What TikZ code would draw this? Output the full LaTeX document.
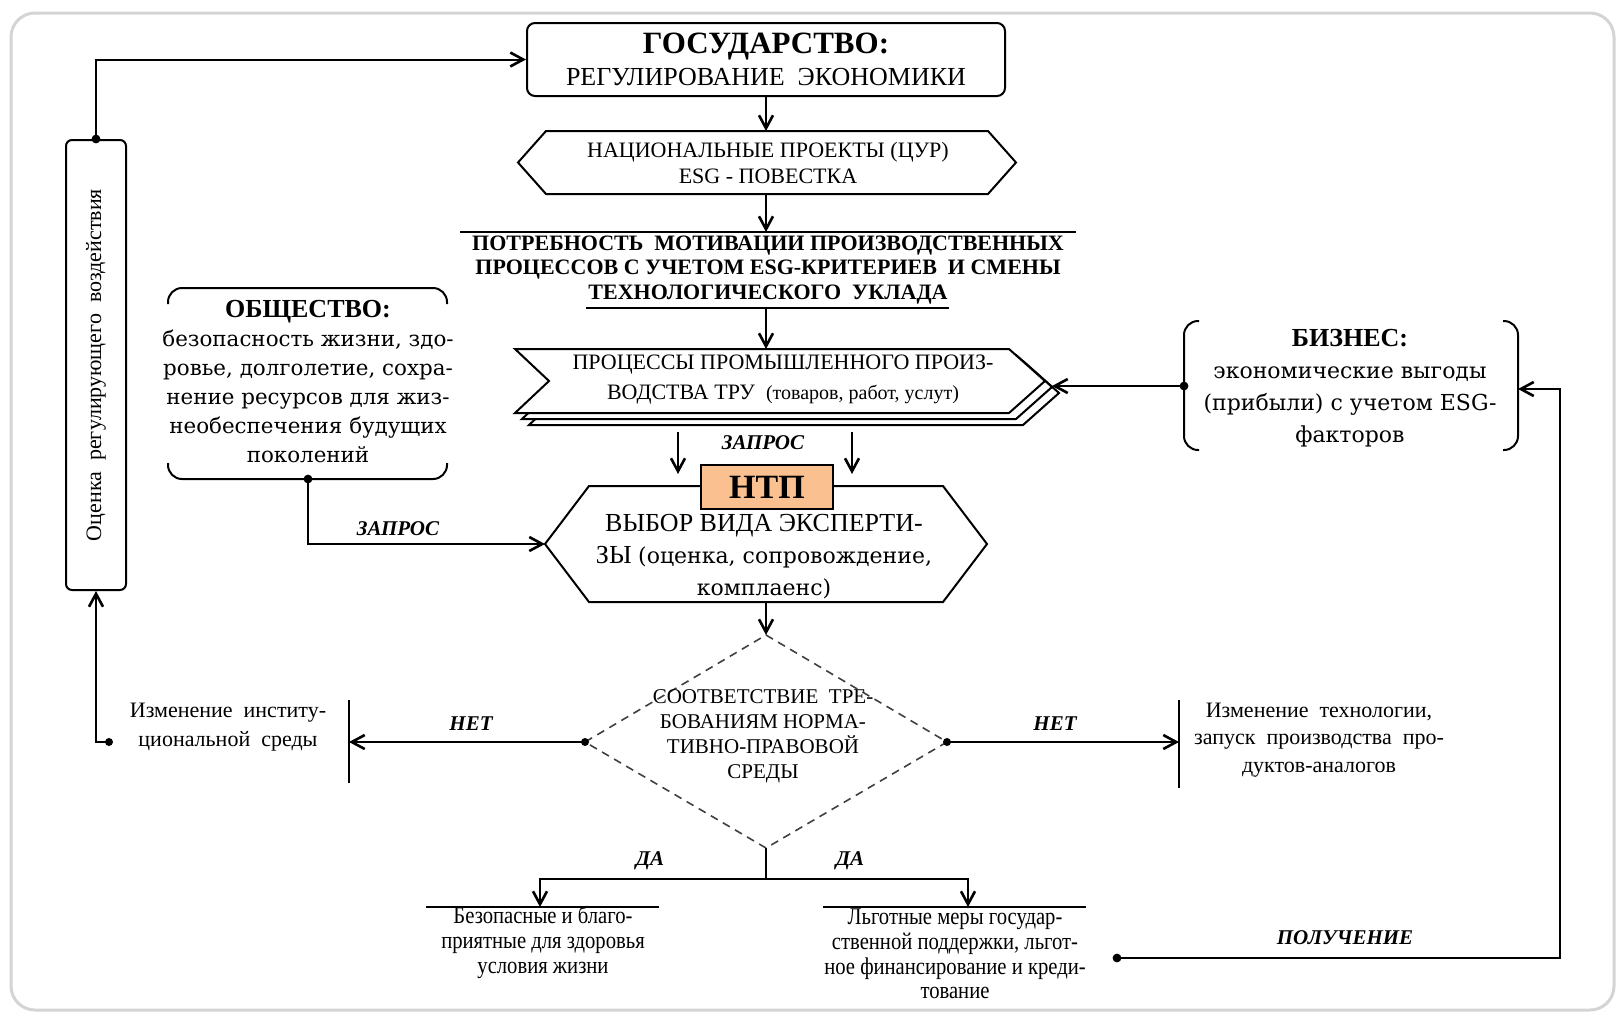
\documentclass[tikz,border=0pt]{standalone}
\usepackage{fontspec}
\usepackage{graphicx}
\setmainfont{Liberation Serif}
\newfontfamily\wideserif{DejaVu Serif}
\newfontfamily\narrowserif[FakeStretch=0.86]{Liberation Serif}
\usetikzlibrary{arrows.meta}
\definecolor{ntpfill}{RGB}{250,192,143}
\definecolor{framegray}{RGB}{212,212,212}

\begin{document}
\begin{tikzpicture}[x=0.5pt,y=-0.5pt,
  flowline/.style={line width=1pt},
  flowarrow/.style={line width=1pt,-{Straight Barb[length=6.5pt,width=7pt,line width=1.3pt]}},
  edgelabel/.style={font=\fontsize{10.5}{12}\selectfont\bfseries\itshape,inner sep=0pt},
  plaintext/.style={align=center,inner sep=0pt}]
  \useasboundingbox (0,0) rectangle (1622,1019);
  % frame
  \draw[framegray,line width=1.5pt,rounded corners=12pt] (11,13) rectangle (1614,1010);
  % state
  \node[draw,flowline,rounded corners=4pt,minimum width=239pt,minimum height=36.5pt,
    align=center,inner sep=0pt,font=\fontsize{13}{16}\selectfont] (state) at (766,59.5)
    {{\fontsize{15.5}{16}\selectfont\bfseries ГОСУДАРСТВО:}\\РЕГУЛИРОВАНИЕ\ \ ЭКОНОМИКИ};
  % national projects
  \coordinate (natN) at (766,131);
  \coordinate (natS) at (766,194);
  \draw[flowline] (518,162.5) -- (546,131) -- (988,131) -- (1016,162.5) -- (988,194) -- (546,194) -- cycle;
  \node[plaintext,font=\fontsize{11}{13}\selectfont] (nat) at (768,162.5)
    {НАЦИОНАЛЬНЫЕ ПРОЕКТЫ (ЦУР)\\ESG - ПОВЕСТКА};
  % need
  \coordinate (needN) at (766,232);
  \coordinate (needS) at (766,308);
  \draw[flowline] (460,232) -- (1076,232);
  \draw[flowline] (586,308) -- (949,308);
  \node[plaintext,font=\fontsize{11}{12.3}\selectfont\bfseries] (need) at (768,270)
    {ПОТРЕБНОСТЬ\ \ МОТИВАЦИИ ПРОИЗВОДСТВЕННЫХ\\ПРОЦЕССОВ С УЧЕТОМ ESG-КРИТЕРИЕВ\ \ И СМЕНЫ\\ТЕХНОЛОГИЧЕСКОГО\ \ УКЛАДА};
  % processes (stacked)
  \coordinate (procN) at (766,349);
  \coordinate (procS) at (766,424);
  \coordinate (procE) at (1052,387);
  \foreach \s in {2,1,0}
    \draw[flowline,fill=white,shift={(7*\s,6*\s)}]
      (515,349) -- (1009,349) -- (1045,381) -- (1009,413) -- (515,413) -- (549,381) -- cycle;
  \node[plaintext,font=\fontsize{11}{15}\selectfont] (proc) at (783,380)
    {ПРОЦЕССЫ ПРОМЫШЛЕННОГО ПРОИЗ-\\ВОДСТВА ТРУ\ \ {\fontsize{10}{15}\selectfont(товаров, работ, услут)}};
  % choice of expertise
  \coordinate (vybN) at (766,486);
  \coordinate (vybW) at (545,544);
  \coordinate (vybS) at (766,602);
  \draw[flowline] (545,544) -- (589,486) -- (943,486) -- (987,544) -- (943,602) -- (589,602) -- cycle;
  \node[plaintext,font=\fontsize{13}{16}\selectfont] (vyb) at (764,557)
    {ВЫБОР ВИДА ЭКСПЕРТИ-\\ЗЫ {\wideserif\fontsize{11}{16}\selectfont(оценка, сопровождение,}\\{\wideserif\fontsize{11}{16}\selectfont комплаенс)}};
  \node[draw,flowline,fill=ntpfill,minimum width=66pt,minimum height=22pt,inner sep=0pt,
    font=\fontsize{17}{18}\selectfont\bfseries] (ntp) at (767,487) {НТП};
  % compliance check
  \coordinate (diaN) at (766,635);
  \coordinate (diaW) at (585,742);
  \coordinate (diaE) at (947,742);
  \coordinate (diaS) at (766,848);
  \draw[line width=0.8pt,black!75,dash pattern=on 4pt off 3pt] (diaN) -- (diaE) -- (diaS) -- (diaW) -- cycle;
  \node[plaintext,font=\fontsize{10.5}{12.5}\selectfont] (dia) at (763,736)
    {СООТВЕТСТВИЕ\ \ ТРЕ-\\БОВАНИЯМ НОРМА-\\ТИВНО-ПРАВОВОЙ\\СРЕДЫ};
  % evaluation
  \node[draw,flowline,rounded corners=3pt,minimum width=30pt,minimum height=225pt,inner sep=0pt,
    font=\fontsize{11}{13}\selectfont] (eval) at (96,365)
    {\rotatebox{90}{Оценка\ \ регулирующего\ \ воздействия}};
  % society
  \draw[flowline,rounded corners=7pt] (168,304) -- (168,288) -- (447,288) -- (447,304);
  \draw[flowline,rounded corners=7pt] (168,463) -- (168,479) -- (447,479) -- (447,463);
  \coordinate (socS) at (308,479);
  \node[plaintext,font=\wideserif\fontsize{10.7}{14.5}\selectfont] (soc) at (308,382)
    {{\rmfamily\fontsize{13}{14.5}\selectfont\bfseries ОБЩЕСТВО:}\\безопасность жизни, здо-\\ровье, долголетие, сохра-\\нение ресурсов для жиз-\\необеспечения будущих\\поколений};
  % business
  \draw[flowline,rounded corners=7pt] (1199,321) -- (1184,321) -- (1184,450) -- (1199,450);
  \draw[flowline,rounded corners=7pt] (1503,321) -- (1518,321) -- (1518,450) -- (1503,450);
  \coordinate (busW) at (1184,386);
  \coordinate (busE) at (1518,389);
  \node[plaintext,font=\wideserif\fontsize{11}{16}\selectfont] (bus) at (1350,388)
    {{\rmfamily\fontsize{13}{16}\selectfont\bfseries БИЗНЕС:}\\экономические выгоды\\(прибыли) с учетом ESG-\\факторов};
  % outcomes
  \coordinate (instE) at (349,742);
  \coordinate (instW) at (109,742);
  \draw[flowline] (349,700) -- (349,783);
  \node[plaintext,font=\fontsize{11}{14.5}\selectfont] (inst) at (228,727)
    {Изменение\ \ институ-\\циональной\ \ среды};
  \coordinate (techW) at (1179,742);
  \draw[flowline] (1179,700) -- (1179,788);
  \node[plaintext,font=\fontsize{11}{13.7}\selectfont] (tech) at (1319,740)
    {Изменение\ \ технологии,\\запуск\ \ производства\ \ про-\\дуктов-аналогов};
  \coordinate (fork) at (766,879);
  \coordinate (safeN) at (540,907);
  \coordinate (suppN) at (968,907);
  \coordinate (suppE) at (1117,958);
  \draw[flowline] (426,907) -- (659,907);
  \draw[flowline] (823,907) -- (1086,907);
  \node[plaintext,font=\narrowserif\fontsize{12}{12.5}\selectfont] (safe) at (543,942)
    {Безопасные и благо-\\приятные для здоровья\\условия жизни};
  \node[plaintext,font=\narrowserif\fontsize{12}{12.3}\selectfont] (supp) at (955,954)
    {Льготные меры государ-\\ственной поддержки, льгот-\\ное финансирование и креди-\\тование};
  % connectors
  \draw[flowarrow] (state.south) -- (natN);
  \draw[flowarrow] (natS) -- (needN);
  \draw[flowarrow] (needS) -- (procN);
  \draw[flowarrow] ([xshift=-44pt,yshift=-4pt]procS) -- ([xshift=-44pt,yshift=6pt]vybN);
  \draw[flowarrow] ([xshift=43pt,yshift=-4pt]procS) -- ([xshift=43pt,yshift=6pt]vybN);
  \draw[flowarrow] (vybS) -- (diaN);
  \fill (socS) circle (2.2pt);
  \draw[flowarrow] (socS) |- (vybW);
  \fill (busW) circle (2.2pt);
  \draw[flowarrow] (busW) -- (busW -| procE);
  \fill (diaW) circle (2pt);
  \draw[flowarrow] (diaW) -- (instE);
  \fill (diaE) circle (2pt);
  \draw[flowarrow] (diaE) -- (techW);
  \fill (instW) circle (2pt);
  \draw[flowarrow] (instW) -| (eval.south);
  \fill (eval.north) circle (2.2pt);
  \draw[flowarrow] (eval.north) |- (state.west);
  \draw[flowline] (diaS) -- (fork);
  \draw[flowarrow] (fork) -| (safeN);
  \draw[flowarrow] (fork) -| (suppN);
  \fill (suppE) circle (2.2pt);
  \draw[flowarrow] (suppE) -| ([xshift=21pt]busE) -- (busE);
  % labels
  \node[edgelabel] (reqproc) at (763,443) {ЗАПРОС};
  \node[edgelabel] (reqsoc) at (398,529) {ЗАПРОС};
  \node[edgelabel] (noleft) at (471,724) {НЕТ};
  \node[edgelabel] (noright) at (1055,724) {НЕТ};
  \node[edgelabel] (yesleft) at (650,861) {ДА};
  \node[edgelabel] (yesright) at (850,861) {ДА};
  \node[edgelabel] (receive) at (1345,938) {ПОЛУЧЕНИЕ};
\end{tikzpicture}
\end{document}
